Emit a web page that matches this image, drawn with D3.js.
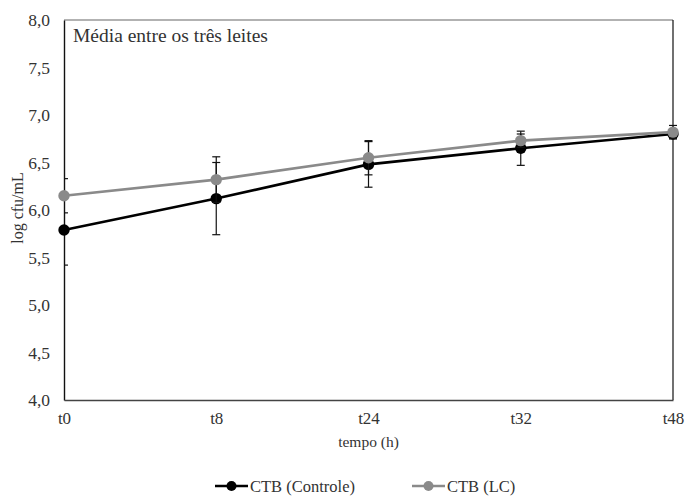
<!DOCTYPE html>
<html><head><meta charset="utf-8">
<script src="https://cdn.jsdelivr.net/npm/d3@7"></script>
<style>body{margin:0;background:#fff}svg{display:block}</style>
</head><body>
<script>
const categories = ["t0","t8","t24","t32","t48"];
const controle = [5.79, 6.12, 6.48, 6.65, 6.80];
const controleErr = [0.37, 0.38, 0.24, 0.18, 0.05];
const lc = [6.15, 6.32, 6.55, 6.73, 6.82];
const lcErr = [0.18, 0.24, 0.18, 0.07, 0.07];
const yTicks = [4.0,4.5,5.0,5.5,6.0,6.5,7.0,7.5,8.0];
const seriesNames = ["CTB (Controle)", "CTB (LC)"];

const FONT = "'Liberation Serif','Times New Roman',serif";
const W=687,H=499;
const svg=d3.select("body").append("svg").attr("width",W).attr("height",H).attr("font-family",FONT);
const L=64,R=673,T=20,B=400;
const x=d3.scalePoint().domain(categories).range([L,R]);
const y=d3.scaleLinear().domain([4,8]).range([B,T]);
const fmt=d=>d.toFixed(1).replace(".",",");

svg.append("defs").append("clipPath").attr("id","plotclip").append("rect")
  .attr("x",L).attr("y",0).attr("width",R-L+10).attr("height",B);

svg.append("line").attr("x1",L).attr("x2",R).attr("y1",T).attr("y2",T).attr("stroke","#666").attr("stroke-width",1.2);
svg.append("line").attr("x1",R).attr("x2",R).attr("y1",T).attr("y2",B).attr("stroke","#111").attr("stroke-width",1.2);

const yAxis=d3.axisLeft(y).tickValues(yTicks).tickFormat(fmt).tickSize(0).tickPadding(14);
const gy=svg.append("g").attr("transform",`translate(${L},0)`).call(yAxis).attr("font-family",FONT);
gy.select(".domain").attr("stroke","#111").attr("stroke-width",1.4);
gy.selectAll("text").attr("font-size",17.5).attr("fill","#333").attr("font-family",FONT);

const xAxis=d3.axisBottom(x).tickSize(0).tickPadding(12);
const gx=svg.append("g").attr("transform",`translate(0,${B})`).call(xAxis).attr("font-family",FONT);
gx.select(".domain").attr("stroke","#444").attr("stroke-width",1.4);
gx.selectAll("text").attr("font-size",17).attr("fill","#333").attr("font-family",FONT);

svg.append("text").attr("x",(L+R)/2).attr("y",447).attr("text-anchor","middle").attr("font-size",15.5).attr("fill","#333").text("tempo (h)");
svg.append("text").attr("transform","translate(23,208) rotate(-90)").attr("text-anchor","middle").attr("font-size",16).attr("fill","#333").text("log cfu/mL");
svg.append("text").attr("x",73).attr("y",42).attr("font-size",19.5).attr("fill","#333").text("Média entre os três leites");

function drawSeries(vals, errs, color){
  const g=svg.append("g");
  const eg=g.append("g").attr("clip-path","url(#plotclip)");
  eg.selectAll(null).data(vals).enter().append("line")
    .attr("x1",(d,i)=>x(categories[i])).attr("x2",(d,i)=>x(categories[i]))
    .attr("y1",(d,i)=>y(d-errs[i])).attr("y2",(d,i)=>y(d+errs[i]))
    .attr("stroke","#111").attr("stroke-width",1.2);
  [-1,1].forEach(s=>{
    eg.selectAll(null).data(vals).enter().append("line")
      .attr("x1",(d,i)=>x(categories[i])-4).attr("x2",(d,i)=>x(categories[i])+4)
      .attr("y1",(d,i)=>y(d+s*errs[i])).attr("y2",(d,i)=>y(d+s*errs[i]))
      .attr("stroke","#111").attr("stroke-width",1.2);
  });
  const line=d3.line().x((d,i)=>x(categories[i])).y(d=>y(d));
  g.append("path").datum(vals).attr("d",line).attr("fill","none").attr("stroke",color).attr("stroke-width",2.6);
  g.selectAll("circle").data(vals).enter().append("circle")
    .attr("cx",(d,i)=>x(categories[i])).attr("cy",d=>y(d)).attr("r",5.7).attr("fill",color);
}
drawSeries(controle, controleErr, "#000");
drawSeries(lc, lcErr, "#8a8a8a");

const leg=[{name:seriesNames[0],color:"#000",x0:215},{name:seriesNames[1],color:"#8a8a8a",x0:412}];
leg.forEach(l=>{
  svg.append("line").attr("x1",l.x0).attr("x2",l.x0+33).attr("y1",486).attr("y2",486).attr("stroke",l.color).attr("stroke-width",2.6);
  svg.append("circle").attr("cx",l.x0+16.5).attr("cy",486).attr("r",5).attr("fill",l.color);
  svg.append("text").attr("x",l.x0+35).attr("y",491.5).attr("font-size",16.5).attr("fill","#333").text(l.name);
});
</script>
</body></html>
